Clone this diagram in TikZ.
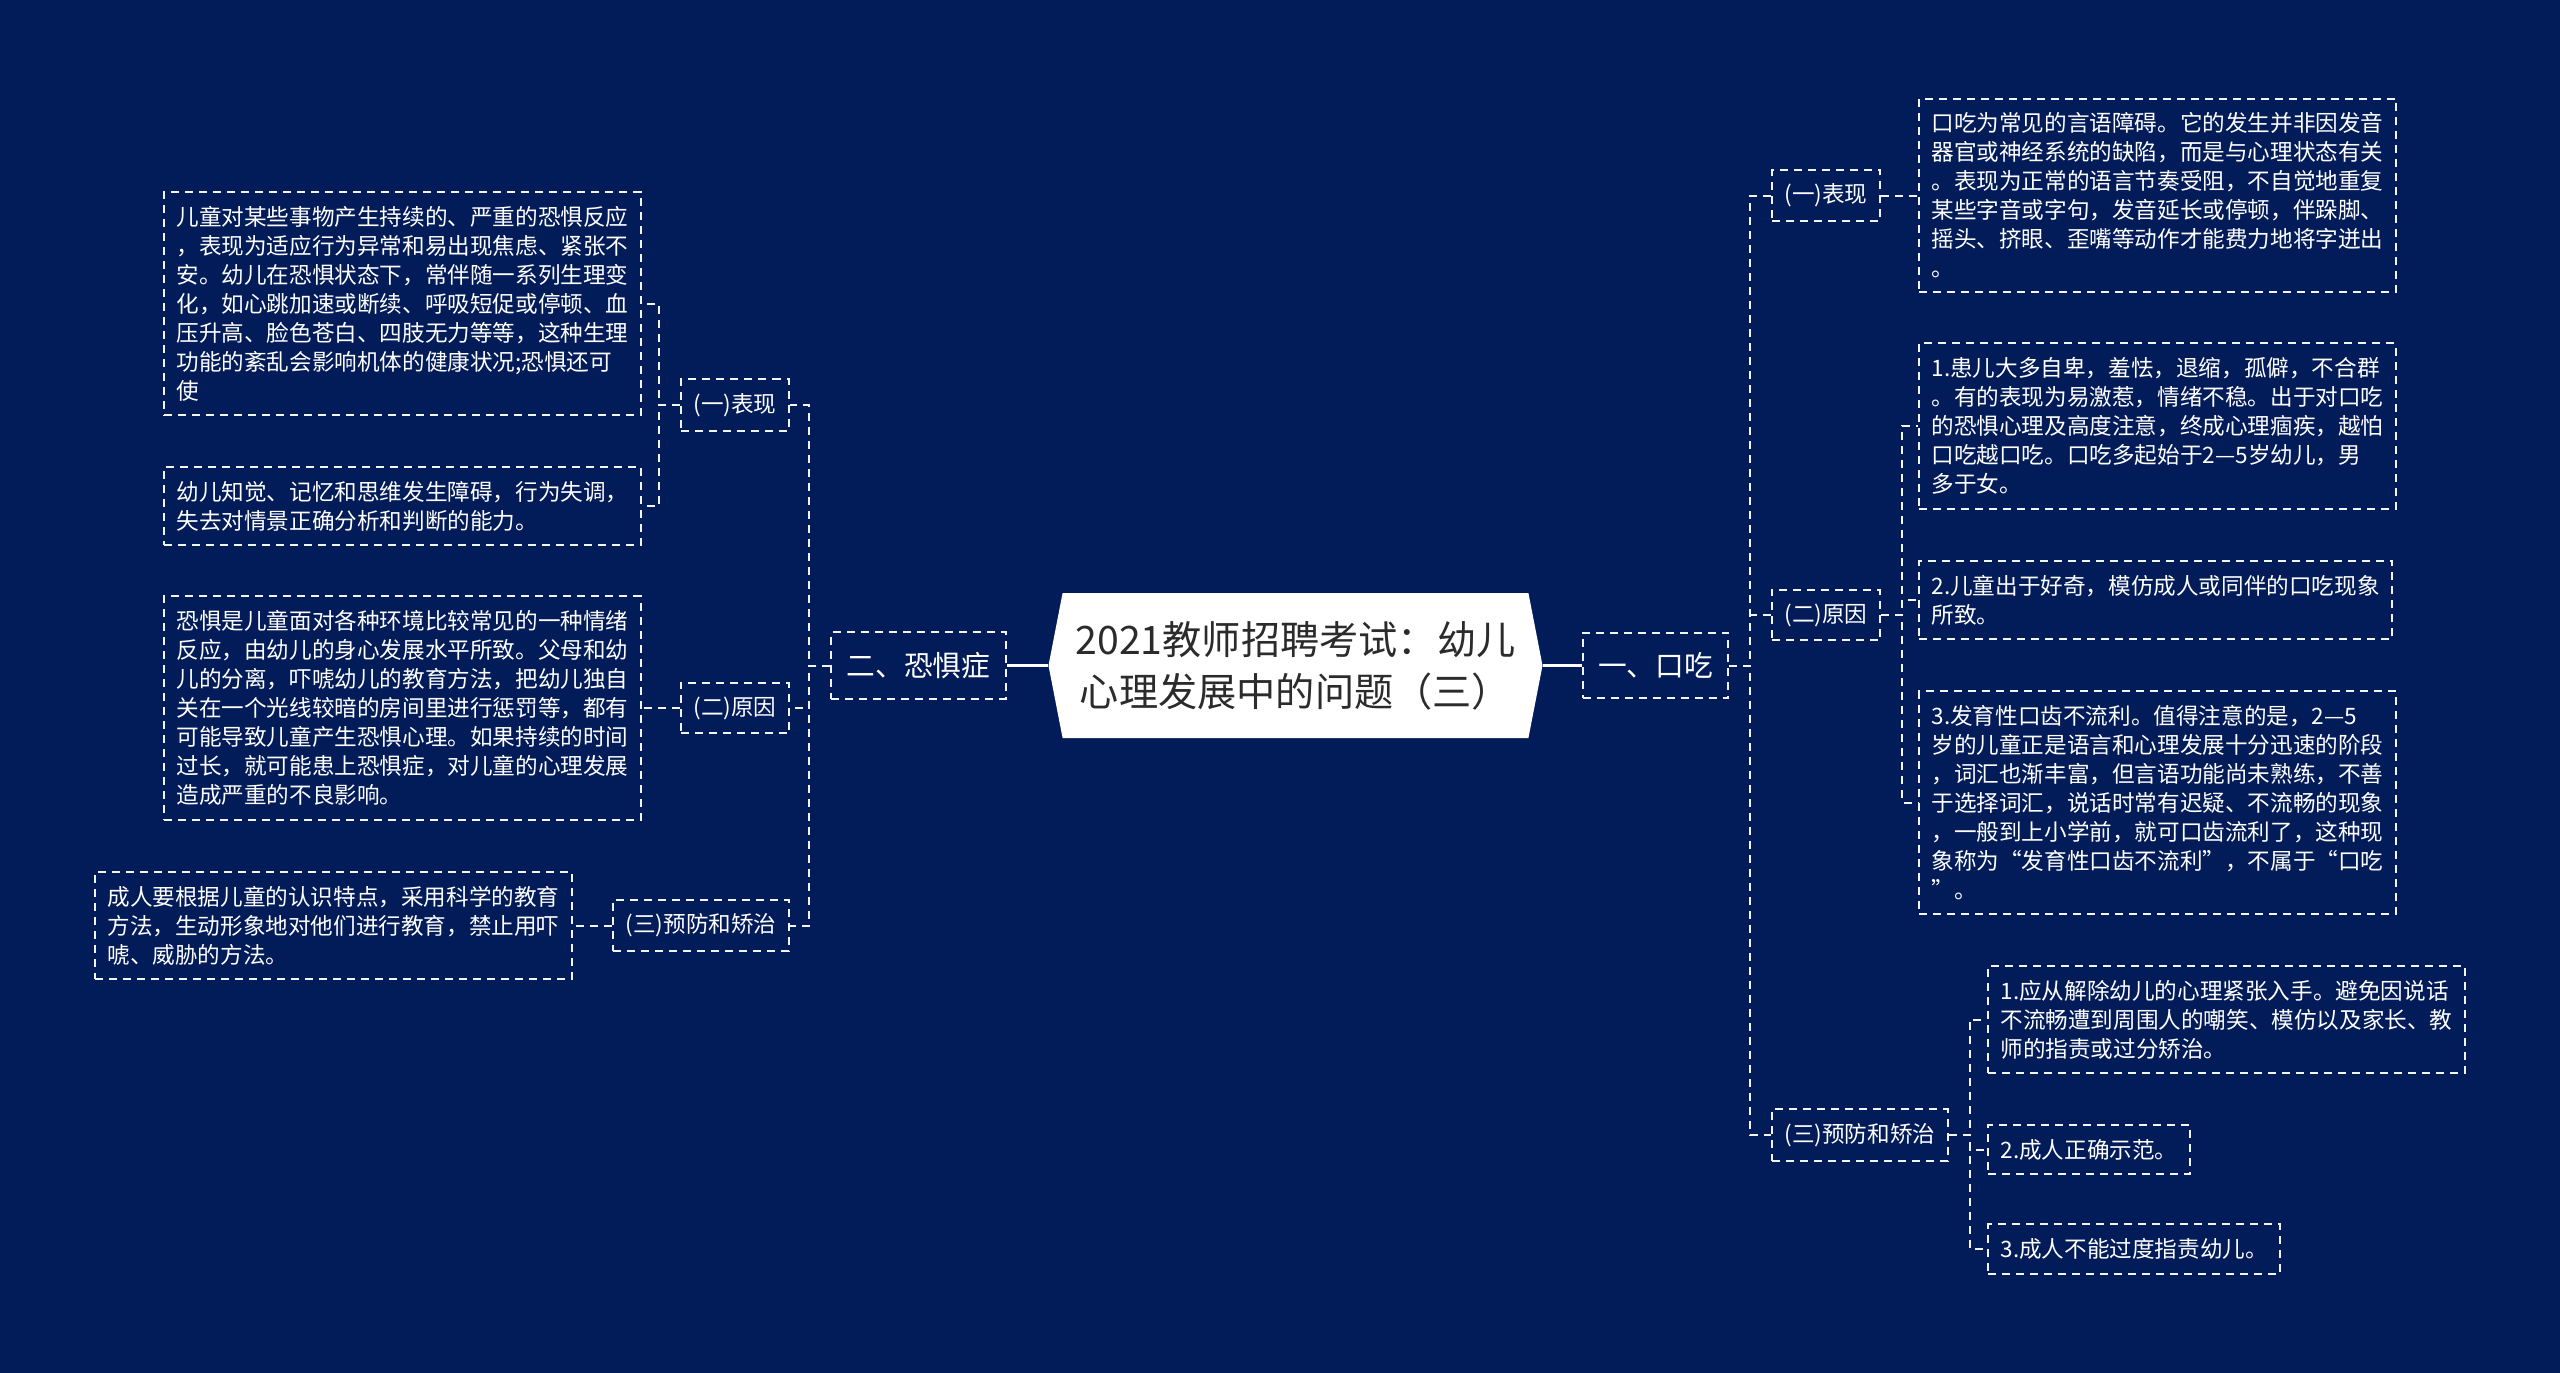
\documentclass[tikz,border=0pt]{standalone}
\usepackage{fontspec}
\setmainfont{Noto Sans CJK SC}
\usetikzlibrary{shapes.symbols}
\definecolor{fillBack}{HTML}{021B59}
\definecolor{fillRoot}{HTML}{FFFFFF}
\definecolor{textRoot}{HTML}{2B2B2B}
\definecolor{borderBox}{HTML}{F2F4F8}

\begin{document}
\begin{tikzpicture}[
    x=1pt, y=-1pt,
    rootlink/.style={draw=white, line width=2.5pt},
    mylink/.style={draw=borderBox, line width=2pt, dash pattern=on 8pt off 6pt},
    dashbox/.style={draw=borderBox, line width=2pt, dash pattern=on 8pt off 6pt, text=white},
    topicbox/.style={dashbox, inner xsep=15.5pt, inner ysep=20pt, font=\fontsize{28.7}{34}\selectfont},
    subbox/.style={dashbox, inner xsep=12.5pt, inner ysep=14pt, font=\fontsize{22.6}{29}\selectfont},
    leafbox/.style={dashbox, align=left, inner xsep=12.5pt, inner ysep=14pt, font=\fontsize{22.6}{29}\selectfont}
]

    \useasboundingbox (0,0) rectangle (2560,1373);
    \fill[fillBack] (0,0) rectangle (2560,1373);

    % ==========================================
    % 1. ROOT AND MAIN TOPICS
    % ==========================================

    \node[
        signal,
        signal to=west and east,
        signal pointer angle=158,
        fill=fillRoot,
        text=textRoot,
        align=center,
        inner xsep=13pt,
        inner ysep=27pt,
        minimum height=145pt,
        font=\fontsize{39.2}{52}\selectfont
    ] (root) at (1295.5, 665.5) {2021教师招聘考试：幼儿\\心理发展中的问题（三）};

    \node[topicbox] (fear) at (918.5, 665.5) {二、恐惧症};
    \node[topicbox] (stutter) at (1655.5, 665.5) {一、口吃};

    % ==========================================
    % 2. FEAR (Left Branch)
    % ==========================================

    \node[subbox, anchor=east] (fearShow) at (790, 405) {(一)表现};
    \node[subbox, anchor=east] (fearCause) at (790, 708) {(二)原因};
    \node[subbox, anchor=east] (fearCure) at (790, 925.5) {(三)预防和矫治};

    \node[leafbox, anchor=east] (showA) at (642, 303.5) {%
        儿童对某些事物产生持续的、严重的恐惧反应\\
        ，表现为适应行为异常和易出现焦虑、紧张不\\
        安。幼儿在恐惧状态下，常伴随一系列生理变\\
        化，如心跳加速或断续、呼吸短促或停顿、血\\
        压升高、脸色苍白、四肢无力等等，这种生理\\
        功能的紊乱会影响机体的健康状况;恐惧还可\\
        使};

    \node[leafbox, anchor=east] (showB) at (642, 506) {%
        幼儿知觉、记忆和思维发生障碍，行为失调，\\
        失去对情景正确分析和判断的能力。};

    \node[leafbox, anchor=east] (causeA) at (642, 708) {%
        恐惧是儿童面对各种环境比较常见的一种情绪\\
        反应，由幼儿的身心发展水平所致。父母和幼\\
        儿的分离，吓唬幼儿的教育方法，把幼儿独自\\
        关在一个光线较暗的房间里进行惩罚等，都有\\
        可能导致儿童产生恐惧心理。如果持续的时间\\
        过长，就可能患上恐惧症，对儿童的心理发展\\
        造成严重的不良影响。};

    \node[leafbox, anchor=east] (cureA) at (573, 925.5) {%
        成人要根据儿童的认识特点，采用科学的教育\\
        方法，生动形象地对他们进行教育，禁止用吓\\
        唬、威胁的方法。};

    % ==========================================
    % 3. STUTTER (Right Branch)
    % ==========================================

    \node[subbox, anchor=west] (stutShow) at (1771, 195.5) {(一)表现};
    \node[subbox, anchor=west] (stutCause) at (1771, 615) {(二)原因};
    \node[subbox, anchor=west] (stutCure) at (1771, 1135) {(三)预防和矫治};

    \node[leafbox, anchor=west] (stShowA) at (1918, 195.5) {%
        口吃为常见的言语障碍。它的发生并非因发音\\
        器官或神经系统的缺陷，而是与心理状态有关\\
        。表现为正常的语言节奏受阻，不自觉地重复\\
        某些字音或字句，发音延长或停顿，伴跺脚、\\
        摇头、挤眼、歪嘴等动作才能费力地将字迸出\\
        。};

    \node[leafbox, anchor=west] (stCauseA) at (1918, 426) {%
        1.患儿大多自卑，羞怯，退缩，孤僻，不合群\\
        。有的表现为易激惹，情绪不稳。出于对口吃\\
        的恐惧心理及高度注意，终成心理痼疾，越怕\\
        口吃越口吃。口吃多起始于2—5岁幼儿，男\\
        多于女。};

    \node[leafbox, anchor=west] (stCauseB) at (1918, 600) {%
        2.儿童出于好奇，模仿成人或同伴的口吃现象\\
        所致。};

    \node[leafbox, anchor=west] (stCauseC) at (1918, 802.5) {%
        3.发育性口齿不流利。值得注意的是，2—5\\
        岁的儿童正是语言和心理发展十分迅速的阶段\\
        ，词汇也渐丰富，但言语功能尚未熟练，不善\\
        于选择词汇，说话时常有迟疑、不流畅的现象\\
        ，一般到上小学前，就可口齿流利了，这种现\\
        象称为“发育性口齿不流利”，不属于“口吃\\
        ”。};

    \node[leafbox, anchor=west] (stCureA) at (1987, 1019.5) {%
        1.应从解除幼儿的心理紧张入手。避免因说话\\
        不流畅遭到周围人的嘲笑、模仿以及家长、教\\
        师的指责或过分矫治。};

    \node[leafbox, anchor=west] (stCureB) at (1987, 1149.5) {2.成人正确示范。};
    \node[leafbox, anchor=west] (stCureC) at (1987, 1249) {3.成人不能过度指责幼儿。};

    % ==========================================
    % 4. CONNECTING LINES
    % ==========================================

    % --- Root to main topics ---
    \draw[rootlink] (root.west) -- (fear.east);
    \draw[rootlink] (root.east) -- (stutter.west);

    % --- Left branch ---
    \draw[mylink] (fear.west) -- ++(-21,0) |- (fearShow.east);
    \draw[mylink] (fear.west) -- ++(-21,0) |- (fearCause.east);
    \draw[mylink] (fear.west) -- ++(-21,0) |- (fearCure.east);

    \draw[mylink] (fearShow.west) -- ++(-21,0) |- (showA.east);
    \draw[mylink] (fearShow.west) -- ++(-21,0) |- (showB.east);
    \draw[mylink] (fearCause.west) -- (causeA.east);
    \draw[mylink] (fearCure.west) -- (cureA.east);

    % --- Right branch ---
    \draw[mylink] (stutter.east) -- ++(21,0) |- (stutShow.west);
    \draw[mylink] (stutter.east) -- ++(21,0) |- (stutCause.west);
    \draw[mylink] (stutter.east) -- ++(21,0) |- (stutCure.west);

    \draw[mylink] (stutShow.east) -- (stShowA.west);

    \draw[mylink] (stutCause.east) -- ++(21,0) |- (stCauseA.west);
    \draw[mylink] (stutCause.east) -- ++(21,0) |- (stCauseB.west);
    \draw[mylink] (stutCause.east) -- ++(21,0) |- (stCauseC.west);

    \draw[mylink] (stutCure.east) -- ++(21,0) |- (stCureA.west);
    \draw[mylink] (stutCure.east) -- ++(21,0) |- (stCureB.west);
    \draw[mylink] (stutCure.east) -- ++(21,0) |- (stCureC.west);

\end{tikzpicture}
\end{document}
